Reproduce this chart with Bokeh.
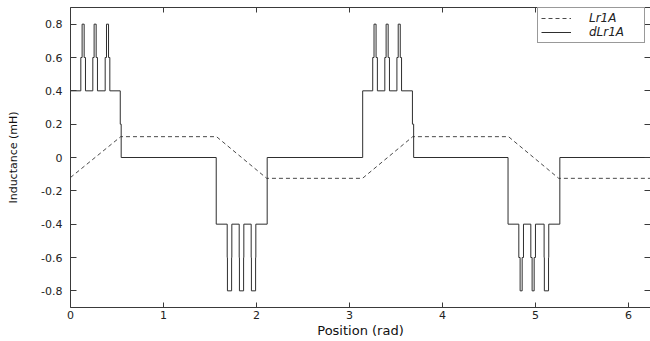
from bokeh.plotting import figure
from bokeh.models import LinearAxis, Range1d, FixedTicker, Legend, LegendItem
from bokeh.embed import file_html
from bokeh.resources import INLINE

# ---- data -------------------------------------------------------------
# Lr1A: trapezoidal phase inductance, vertices (position in rad, value in mH)
lr1a_pos = [0.0, 0.54, 1.57, 2.11, 3.14, 3.68, 4.71, 5.25, 6.2832]
lr1a_val = [-0.12, 0.125, 0.125, -0.125, -0.125, 0.125, 0.125, -0.125, -0.125]

# dLr1A: piecewise-constant plateaus between switching positions
dlr1a_edges = [0.0, 0.535, 0.545, 1.567, 2.115, 3.142, 3.677, 3.690, 4.705, 5.262, 6.2832]
dlr1a_levels = [0.4, 0.2, 0.0, -0.4, 0.0, 0.4, 0.2, 0.0, -0.4, 0.0]

# narrow spikes riding on the +/-0.4 plateaus
spike_pos = [0.136, 0.265, 0.398, 1.710, 1.839, 1.968,
             3.275, 3.405, 3.535, 4.846, 4.975, 5.118]
spike_mid = [0.6, 0.6, 0.6, -0.6, -0.6, -0.6,
             0.6, 0.6, 0.6, -0.6, -0.6, -0.6]
spike_peak = [0.8, 0.8, 0.8, -0.8, -0.8, -0.8,
              0.8, 0.8, 0.8, -0.8, -0.8, -0.8]
spike_base_width = [0.05] * 12
spike_tip_width = [0.022, 0.022, 0.022, 0.045, 0.045, 0.045,
                   0.022, 0.022, 0.022, 0.022, 0.022, 0.045]

x_ticks = [0, 1, 2, 3, 4, 5, 6]
x_tick_labels = ["0", "1", "2", "3", "4", "5", "6"]
y_ticks = [-0.8, -0.6, -0.4, -0.2, 0.0, 0.2, 0.4, 0.6, 0.8]
y_tick_labels = ["-0.8", "-0.6", "-0.4", "-0.2", "0", "0.2", "0.4", "0.6", "0.8"]

# ---- build the stepped dLr1A trace ---------------------------------------
dx, dy = [], []
for i, level in enumerate(dlr1a_levels):
    a, b = dlr1a_edges[i], dlr1a_edges[i + 1]
    dx.append(a); dy.append(level)
    for c, m, pk, wb, wt in zip(spike_pos, spike_mid, spike_peak,
                                spike_base_width, spike_tip_width):
        if a < c < b:
            x1, x2 = c - wb / 2, c - wt / 2
            x3, x4 = c + wt / 2, c + wb / 2
            dx += [x1, x1, x2, x2, x3, x3, x4, x4]
            dy += [level, m, m, pk, pk, m, m, level]
    dx.append(b); dy.append(level)

# ---- figure -------------------------------------------------------------
FONT = "DejaVu Sans"
AX = "#3a3a3a"

p = figure(width=650, height=341,
           x_range=Range1d(0, 6.237), y_range=Range1d(-0.9, 0.9),
           output_backend="svg", toolbar_location=None,
           min_border_left=70, min_border_right=0,
           min_border_top=7, min_border_bottom=34)
p.outline_line_color = None
p.grid.visible = False
p.background_fill_color = "white"
p.border_fill_color = "white"

for ax in (p.xaxis[0], p.yaxis[0]):
    ax.axis_line_color = AX
    ax.major_tick_line_color = AX
    ax.major_tick_in = 5
    ax.major_tick_out = 0
    ax.minor_tick_line_color = None
    ax.major_label_text_font = FONT
    ax.major_label_text_font_size = "11px"
    ax.major_label_text_color = "#222222"
    ax.axis_label_text_font = FONT
    ax.axis_label_text_font_style = "normal"
    ax.axis_label_text_color = "#111111"

p.xaxis[0].ticker = FixedTicker(ticks=x_ticks)
p.xaxis[0].major_label_overrides = dict(zip(x_ticks, x_tick_labels))
p.xaxis[0].major_label_standoff = 3
p.xaxis[0].axis_label = "Position (rad)"
p.xaxis[0].axis_label_text_font_size = "13px"
p.xaxis[0].axis_label_standoff = 1

p.yaxis[0].ticker = FixedTicker(ticks=y_ticks)
p.yaxis[0].major_label_overrides = dict(zip(y_ticks, y_tick_labels))
p.yaxis[0].major_label_standoff = 8
p.yaxis[0].axis_label = "Inductance (mH)"
p.yaxis[0].axis_label_text_font_size = "11px"
p.yaxis[0].axis_label_standoff = 18
p.yaxis[0].major_tick_in = 6

# box ticks on top and right
top = LinearAxis(ticker=FixedTicker(ticks=x_ticks), axis_line_color=AX,
                 major_tick_line_color=AX, major_tick_in=5, major_tick_out=0,
                 minor_tick_line_color=None, major_label_text_font_size="0px",
                 major_label_standoff=0,
                 major_label_overrides={t: "" for t in x_ticks})
p.add_layout(top, "above")
right = LinearAxis(ticker=FixedTicker(ticks=y_ticks), axis_line_color=None,
                   major_tick_line_color=AX, major_tick_line_width=1,
                   major_tick_in=6, major_tick_out=0,
                   minor_tick_line_color=None, major_label_text_font_size="0px",
                   major_label_standoff=0,
                   major_label_overrides={t: "" for t in y_ticks})
p.add_layout(right, "right")

r_lr = p.line(lr1a_pos, lr1a_val, line_color="#4a4a4a", line_width=1,
              line_dash="4 3")
r_dlr = p.line(dx, dy, line_color="#2e2e2e", line_width=1)

legend = Legend(items=[LegendItem(label="Lr1A", renderers=[r_lr]),
                       LegendItem(label="dLr1A", renderers=[r_dlr])],
                location=(467, 264))
legend.label_text_font = FONT
legend.label_text_font_style = "italic"
legend.label_text_font_size = "12px"
legend.label_text_color = "#222222"
legend.border_line_color = "#333333"
legend.border_line_width = 1
legend.background_fill_color = "white"
legend.background_fill_alpha = 1
legend.padding = 3
legend.spacing = 0
legend.margin = 0
legend.glyph_width = 30
legend.glyph_height = 12
legend.label_height = 12
legend.label_width = 52
legend.label_standoff = 18
p.add_layout(legend)

open("out.html", "w").write(file_html(p, INLINE))
